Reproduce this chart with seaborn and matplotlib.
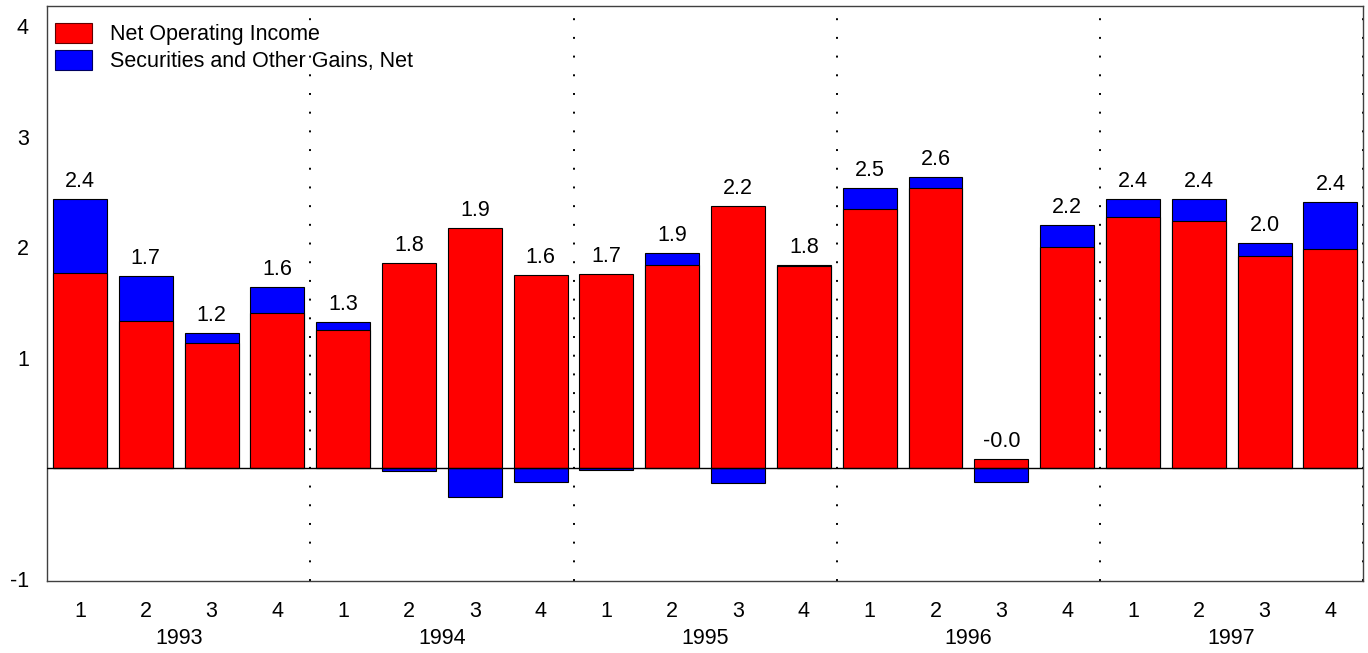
import seaborn as sns
import matplotlib.pyplot as plt
import numpy as np
import pandas as pd
from matplotlib.patches import Patch

years = ["1993", "1994", "1995", "1996", "1997"]
quarters = ["1", "2", "3", "4"]

# net operating income (red) and securities gains (blue)
net_operating = [1.770, 1.336, 1.131, 1.403, 1.254, 1.855, 2.177, 1.750,
                 1.760, 1.843, 2.370, 1.831, 2.344, 2.534, 0.087, 2.000,
                 2.277, 2.235, 1.919, 1.987]
securities = [0.667, 0.404, 0.093, 0.237, 0.067, -0.025, -0.260, -0.120,
              -0.020, 0.105, -0.130, 0.010, 0.196, 0.106, -0.121, 0.199,
              0.163, 0.205, 0.121, 0.420]

red = np.array(net_operating)
blue = np.array(securities)
total = red + blue
pos = np.arange(len(red))

df = pd.DataFrame({
    "pos": pos,
    "red": red,
    # blue stacks on red when positive, hangs below zero when negative
    "blue_bar": np.where(blue > 0, red + blue, blue),
})

sns.set_style("white")
plt.rcParams["font.family"] = ["Liberation Sans", "DejaVu Sans"]
plt.rcParams["lines.scale_dashes"] = False
for key in ["text.color", "xtick.color", "ytick.color", "axes.labelcolor"]:
    plt.rcParams[key] = "black"

fig = plt.figure(figsize=(13.68, 6.53), dpi=100)
ax = fig.add_axes([47 / 1368, (653 - 581.3) / 653, 1316.3 / 1368, 575.6 / 653])

sns.barplot(data=df, x="pos", y="blue_bar", color="#0000FF", saturation=1,
            width=0.82, edgecolor="black", linewidth=0.8, ax=ax)
sns.barplot(data=df, x="pos", y="red", color="#FF0000", saturation=1,
            width=0.82, edgecolor="black", linewidth=0.8, ax=ax)

ax.axhline(0, color="black", lw=1, zorder=3)

for x in [3.5, 7.5, 11.5, 15.5, 19.5]:
    ax.axvline(x, color="black", lw=1.4, linestyle=(0, (1.4, 12.06)), zorder=0)

# total labels above each stack
for i in pos:
    top = red[i] + max(blue[i], 0)
    ax.annotate(f"{total[i]:.1f}", (i, top), xytext=(0, 5), textcoords="offset points",
                ha="center", va="bottom", fontsize=15.5)

ax.set_xlim(-0.5, 19.5)
ax.set_ylim(-1.023, 4.186)
ax.set_yticks([-1, 1, 2, 3, 4])
ax.set_yticklabels(["-1", "1", "2", "3", "4"])
ax.set_xticks(pos)
ax.set_xticklabels(quarters * len(years))
ax.tick_params(axis="both", length=0, labelsize=15.5)
ax.tick_params(axis="y", pad=13)
ax.tick_params(axis="x", pad=14)
ax.set_xlabel("")
ax.set_ylabel("")

for k, yr in enumerate(years):
    ax.text(4 * k + 1.5, -0.1, yr, transform=ax.get_xaxis_transform(),
            ha="center", va="center", fontsize=15.5)

for s in ax.spines.values():
    s.set_visible(True)
    s.set_color("#404040")
    s.set_linewidth(1)

handles = [Patch(facecolor="#FF0000", edgecolor="#600000", lw=0.8),
           Patch(facecolor="#0000FF", edgecolor="#000060", lw=0.8)]
ax.legend(handles, ["Net Operating Income", "Securities and Other Gains, Net"],
          loc="upper left", bbox_to_anchor=(8 / 1316.3, 1 - 17 / 575.6),
          frameon=False, fontsize=15.5, borderpad=0, borderaxespad=0,
          handlelength=1.7, handleheight=1.1, handletextpad=0.85,
          labelspacing=0.2)

fig.savefig("out.png", dpi=100)
